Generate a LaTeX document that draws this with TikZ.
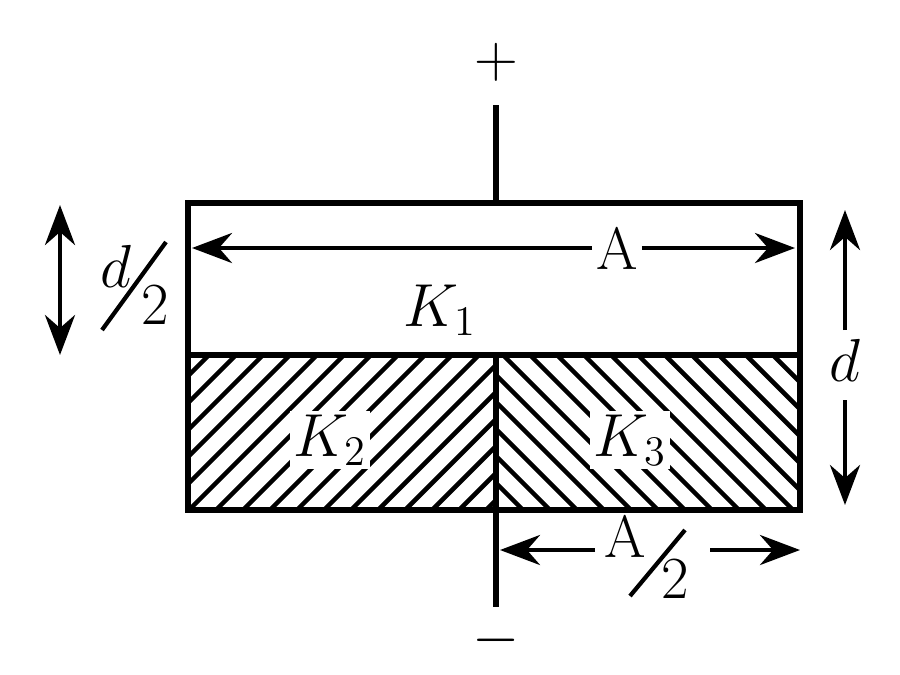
\documentclass[tikz,border=0pt]{standalone}
\usetikzlibrary{arrows.meta}
\tikzset{
  lbl/.style={font=\fontsize{17}{20}\selectfont, inner sep=1pt},
  dim/.style={line width=1.3pt, -{Stealth[length=4mm,width=3mm]}},
  hatch/.style={line width=1.3pt}
}
\begin{document}
\begin{tikzpicture}
    \useasboundingbox (0,0) rectangle (9,6.74);

    % corners of the plates
    \coordinate (tl) at (1.88,4.71);
    \coordinate (ml) at (1.88,3.19);
    \coordinate (bl) at (1.88,1.64);
    \coordinate (tr) at (8.00,4.71);
    \coordinate (mr) at (8.00,3.19);
    \coordinate (br) at (8.00,1.64);
    \coordinate (tc) at (4.96,4.71);
    \coordinate (mc) at (4.96,3.19);
    \coordinate (bc) at (4.96,1.64);

    % hatching
    \begin{scope}
      \clip (bl) rectangle (mc);
      \foreach \x in {0,0.27,...,5.2}
        \draw[hatch] (\x,1.64) -- ++(2,2);
    \end{scope}
    \begin{scope}
      \clip (bc) rectangle (mr);
      \foreach \x in {4.96,5.23,...,10.2}
        \draw[hatch] (\x,1.64) -- ++(-2,2);
    \end{scope}

    \draw[line width=1.5pt] (bl) rectangle (tr);
    \draw[line width=1.5pt] (ml) -- (mr);
    \draw[line width=1.5pt] (mc) -- (bc);

    % leads
    \coordinate (top) at (4.96,5.69);
    \coordinate (bot) at (4.96,0.67);
    \draw[line width=1.5pt] (tc) -- (top);
    \draw[line width=1.5pt] (bc) -- (bot);
    \node[lbl] (plus) at (4.96,6.12) {$+$};
    \node[lbl] (minus) at (4.96,0.34) {$-$};

    % labels
    \node[lbl] (K1) at (4.40,3.64) {$K_1$};
    \node[lbl, fill=white] (K2) at (3.30,2.34) {$K_2$};
    \node[lbl, fill=white] (K3) at (6.30,2.34) {$K_3$};

    % width A
    \coordinate (a1) at (1.92,4.26);
    \coordinate (a2) at (7.95,4.26);
    \node[lbl, fill=white] (A) at (6.17,4.26) {A};
    \draw[dim] (A) -- (a1);
    \draw[dim] (A) -- (a2);

    % half width
    \coordinate (h1) at (5.00,1.24);
    \coordinate (h2) at (8.00,1.24);
    \node[lbl] (hA) at (6.25,1.38) {A};
    \node[lbl] (h2n) at (6.75,0.95) {2};
    \draw[line width=1.2pt] (6.30,0.78) -- (6.85,1.44);
    \draw[dim] (5.95,1.24) -- (h1);
    \draw[dim] (7.10,1.24) -- (h2);

    % d/2
    \coordinate (p1) at (0.60,4.69);
    \coordinate (p2) at (0.60,3.19);
    \draw[dim, {Stealth[length=4mm,width=3mm]}-{Stealth[length=4mm,width=3mm]}] (p1) -- (p2);
    \node[lbl] (dn) at (1.16,4.08) {$d$};
    \node[lbl] (dd) at (1.55,3.69) {2};
    \draw[line width=1.2pt] (1.02,3.44) -- (1.66,4.32);

    % d
    \node[lbl] (d) at (8.45,3.14) {$d$};
    \coordinate (q1) at (8.45,4.64);
    \coordinate (q2) at (8.45,1.69);
    \draw[dim] (8.45,3.44) -- (q1);
    \draw[dim] (8.45,2.74) -- (q2);
\end{tikzpicture}
\end{document}
